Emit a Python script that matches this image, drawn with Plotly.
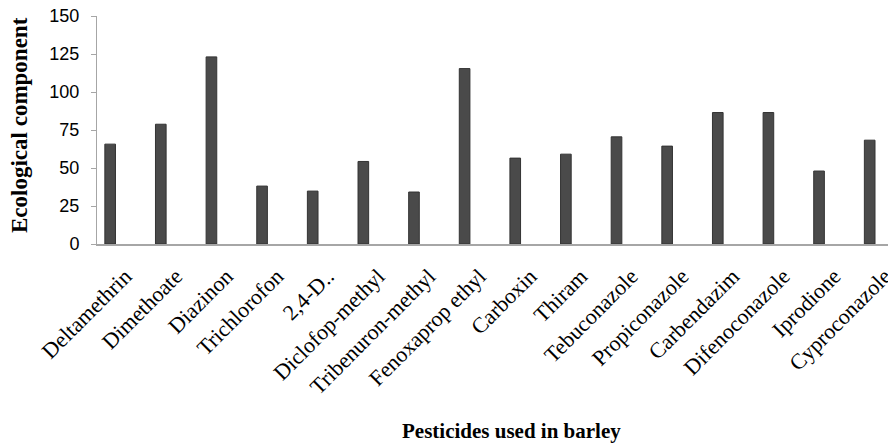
import plotly.graph_objects as go

pesticides = ["Deltamethrin", "Dimethoate", "Diazinon", "Trichlorofon", "2,4-D..",
              "Diclofop-methyl", "Tribenuron-methyl", "Fenoxaprop ethyl", "Carboxin", "Thiram",
              "Tebuconazole", "Propiconazole", "Carbendazim", "Difenoconazole", "Iprodione",
              "Cyproconazole"]
eco_component = [65.7, 78.8, 123.1, 38.1, 34.8, 54.3, 34.2, 115.4, 56.5, 59.1,
                 70.5, 64.4, 86.5, 86.5, 48.0, 68.3]
y_ticks = [0, 25, 50, 75, 100, 125, 150]

x_idx = list(range(len(pesticides)))

fig = go.Figure()
fig.add_trace(go.Bar(
    x=x_idx, y=eco_component, width=0.21,
    marker=dict(color="#4a4a4a", line=dict(color="#333333", width=1)),
    hoverinfo="y",
))

serif = "Liberation Serif, Times New Roman, serif"
fig.update_layout(
    width=896, height=444,
    margin=dict(l=89, r=9, t=8, b=208),
    plot_bgcolor="white", paper_bgcolor="white",
    showlegend=False,
    xaxis=dict(
        automargin=False,
        range=[-0.26, 15.5],
        tickmode="array", tickvals=x_idx, ticktext=pesticides,
        tickangle=-45,
        tickfont=dict(family=serif, size=22, color="#000"),
        ticklabelshift=15, ticklabelstandoff=9,
        ticklabeloverflow="allow",
        showline=True, linecolor="#a6a6a6", linewidth=1.5,
        showgrid=False, zeroline=False, ticks="",
    ),
    yaxis=dict(
        automargin=False,
        range=[0, 150],
        tickmode="array", tickvals=y_ticks,
        tickfont=dict(family="Liberation Sans, Arial, sans-serif", size=18, color="#000"),
        showline=True, linecolor="#a6a6a6", linewidth=1,
        ticks="outside", ticklen=5, tickcolor="#a6a6a6",
        ticklabelstandoff=8,
        ticklabeloverflow="allow",
        showgrid=False, zeroline=False,
    ),
    annotations=[
        dict(text="<b>Ecological component</b>", textangle=-90,
             xref="paper", yref="paper", x=-0.0965, y=0.522,
             xanchor="center", yanchor="middle", showarrow=False,
             font=dict(family=serif, size=23, color="#000")),
        dict(text="<b>Pesticides used in barley</b>",
             xref="paper", yref="paper", x=0.5188, y=-0.82,
             xanchor="center", yanchor="middle", showarrow=False,
             font=dict(family=serif, size=21, color="#000")),
    ],
)

fig.write_html("out.html")
